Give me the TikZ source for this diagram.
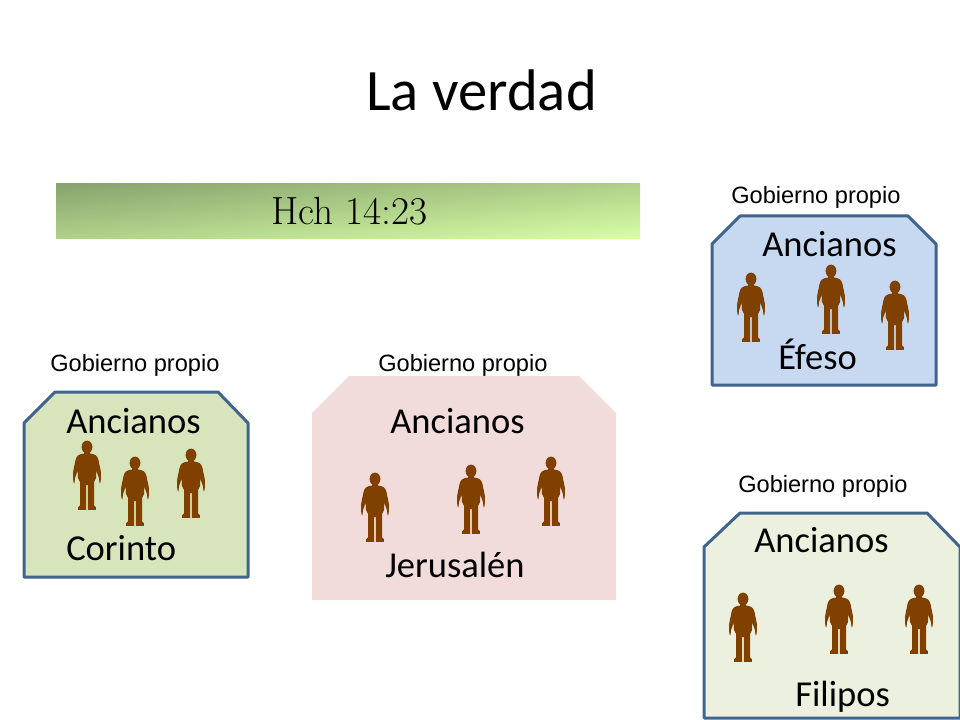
\documentclass[tikz,border=0pt]{standalone}
\usepackage{fontspec}
\setmainfont{Carlito}
\newfontfamily\arialf{Liberation Sans}
\newfontfamily\lmf{Latin Modern Roman}
\pgfdeclarefunctionalshading{barfn}{\pgfpoint{0bp}{0bp}}{\pgfpoint{100bp}{100bp}}{}{
 25 sub 50 div 0.5 mul exch 25 sub 50 div 1 exch sub 0.5 mul add
 dup 0.32 mul 0.85 exch sub exch dup 0.36 mul 1 exch sub exch 0.22 mul 0.65 exch sub
}
\definecolor{borderblue}{HTML}{41648C}
\definecolor{corintofill}{HTML}{D8E4BC}
\definecolor{efesofill}{HTML}{C6D9F1}
\definecolor{jerufill}{HTML}{F2DCDB}
\definecolor{filipofill}{HTML}{EBF1DE}
\definecolor{figbrown}{HTML}{7F4000}
\tikzset{
  church/.style={line width=2.25pt,draw=borderblue,line join=round},
  txt/.style={anchor=base west,inner sep=0pt,font=\fontsize{27.4}{32}\selectfont},
  gob/.style={anchor=base west,inner sep=0pt,font=\arialf\fontsize{17.7}{20}\selectfont},
  person/.pic={
    \fill[figbrown] (0,6) ellipse [x radius=5.4,y radius=6.4];
    \fill[figbrown] (-3,10) -- (-3,12.5)
      .. controls (-7,13) and (-10.5,14) .. (-11.5,19)
      .. controls (-12.5,25) and (-14,29) .. (-14,34)
      .. controls (-14,38) and (-13.6,42.5) .. (-12.9,42.5)
      .. controls (-12.2,42.5) and (-12.4,38) .. (-11.6,36)
      .. controls (-10.8,34) and (-10,32) .. (-9.4,29)
      -- (-9,37) -- (-7,41) -- (-7,64.5) -- (-8.8,66) -- (-8.8,68.8)
      -- (-0.8,68.8) -- (-0.8,44) -- (0.8,44) -- (0.8,68.8) -- (8.8,68.8) -- (8.8,66)
      -- (7,64.5) -- (7,41) -- (9,37) -- (9.4,29)
      .. controls (10,32) and (10.8,34) .. (11.6,36)
      .. controls (12.4,38) and (12.2,42.5) .. (12.9,42.5)
      .. controls (13.6,42.5) and (14,38) .. (14,34)
      .. controls (14,29) and (12.5,25) .. (11.5,19)
      .. controls (10.5,14) and (7,13) .. (3,12.5)
      -- (3,10) -- cycle;
  }
}
\begin{document}
\begin{tikzpicture}[x=0.75pt,y=-0.75pt]
\useasboundingbox (0,0) rectangle (960,720);
\node[anchor=base west,inner sep=0pt,font=\fontsize{44}{50}\selectfont] (title) at (366,110.5) {La verdad};
\shade[shading=barfn] (56,184) rectangle (640,239);
\node[anchor=base west,inner sep=0pt,font=\lmf\fontsize{29.5}{34}\selectfont] (hch) at (271,225) {Hch 14:23};
% Corinto
\draw[church,fill=corintofill] (24,423) -- (55,392) -- (218,392) -- (248,423) -- (248,577) -- (24,577) -- cycle;
\node[gob] (g1) at (50,371) {Gobierno propio};
\node[txt] (a1) at (66,433) {Ancianos};
\node[txt] (c1) at (66,560) {Corinto};
\pic at (87,441) {person};
\pic at (135,457) {person};
\pic at (191,449) {person};
% Jerusalen
\fill[jerufill] (312,413) -- (349,376) -- (579,376) -- (616,413) -- (616,600) -- (312,600) -- cycle;
\node[gob] (g2) at (378,371) {Gobierno propio};
\node[txt] (a2) at (390,433) {Ancianos};
\node[txt] (c2) at (385,577) {Jerusalén};
\pic at (375,473) {person};
\pic at (471,465) {person};
\pic at (551,457) {person};
% Efeso
\draw[church,fill=efesofill] (712,244) -- (740,216) -- (908,216) -- (936,244) -- (936,385) -- (712,385) -- cycle;
\node[gob] (g3) at (731,204) {Gobierno propio};
\node[txt] (a3) at (762,257) {Ancianos};
\node[txt] (c3) at (778,369) {Éfeso};
\pic at (751,273) {person};
\pic at (831,265) {person};
\pic at (895,281) {person};
% Filipos
\draw[church,fill=filipofill] (704,547) -- (740,513) -- (927,513) -- (960,547) -- (960,718) -- (704,718) -- cycle;
\node[gob] (g4) at (738,492) {Gobierno propio};
\node[txt] (a4) at (754,552) {Ancianos};
\node[txt] (c4) at (795,706) {Filipos};
\pic at (743,593) {person};
\pic at (839,585) {person};
\pic at (919,585) {person};
\end{tikzpicture}
\end{document}
